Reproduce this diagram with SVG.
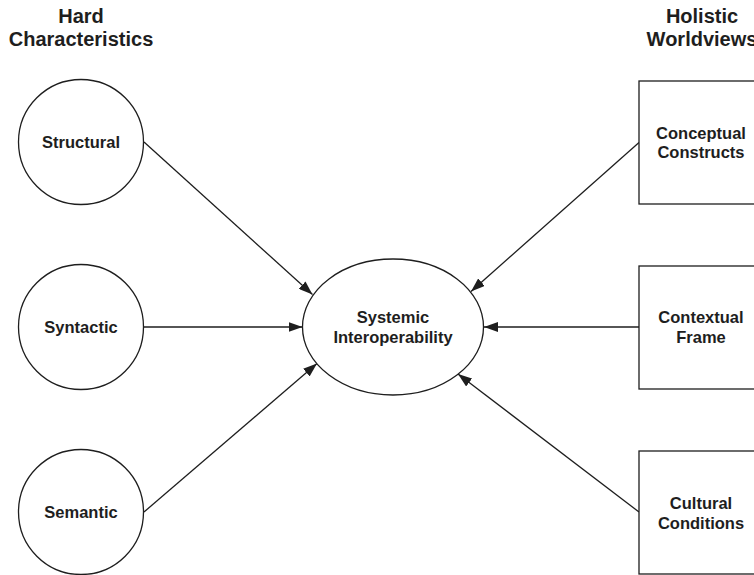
<svg xmlns="http://www.w3.org/2000/svg" width="754" height="575" viewBox="0 0 754 575">
  <style>
    .shape { fill: #ffffff; stroke: #1e1e1e; stroke-width: 1.3; }
    .edge { fill: none; stroke: #1e1e1e; stroke-width: 1.3; }
    .label { font-family: "Liberation Sans", Arial, Helvetica, sans-serif; font-weight: bold; font-size: 16.5px; fill: #1e1e1e; text-anchor: middle; }
    .head { font-family: "Liberation Sans", Arial, Helvetica, sans-serif; font-weight: bold; font-size: 20px; fill: #1e1e1e; text-anchor: middle; }
  </style>
  <defs>
    <marker id="arrow" markerUnits="userSpaceOnUse" markerWidth="14" markerHeight="10" refX="14" refY="5" orient="auto">
      <path d="M0,0 L14,5 L0,10 Z" fill="#1e1e1e"/>
    </marker>
  </defs>

  <rect width="754" height="575" fill="#ffffff"/>

  <!-- column headings -->
  <g id="heading-hard">
    <text class="head" x="81" y="22.5">Hard</text>
    <text class="head" x="81" y="46">Characteristics</text>
  </g>
  <g id="heading-holistic">
    <text class="head" x="702" y="22.5">Holistic</text>
    <text class="head" x="702" y="46">Worldviews</text>
  </g>

  <!-- connectors -->
  <g id="connectors">
    <line class="edge" x1="144" y1="142" x2="312.5" y2="294.5" marker-end="url(#arrow)"/>
    <line class="edge" x1="144" y1="327" x2="302.5" y2="327" marker-end="url(#arrow)"/>
    <line class="edge" x1="144" y1="512" x2="317" y2="363.5" marker-end="url(#arrow)"/>
    <line class="edge" x1="639" y1="142.5" x2="471" y2="291.5" marker-end="url(#arrow)"/>
    <line class="edge" x1="639" y1="327" x2="484" y2="327" marker-end="url(#arrow)"/>
    <line class="edge" x1="639" y1="512" x2="458" y2="374" marker-end="url(#arrow)"/>
  </g>

  <!-- hard characteristics -->
  <g id="node-structural">
    <circle class="shape" cx="81" cy="142" r="62.5"/>
    <text class="label" x="81" y="148">Structural</text>
  </g>
  <g id="node-syntactic">
    <circle class="shape" cx="81" cy="327" r="62.5"/>
    <text class="label" x="81" y="333">Syntactic</text>
  </g>
  <g id="node-semantic">
    <circle class="shape" cx="81" cy="512" r="62.5"/>
    <text class="label" x="81" y="518">Semantic</text>
  </g>

  <!-- central concept -->
  <g id="node-systemic">
    <ellipse class="shape" cx="393" cy="327" rx="90.5" ry="68"/>
    <text class="label" x="393" y="323">Systemic</text>
    <text class="label" x="393" y="343">Interoperability</text>
  </g>

  <!-- holistic worldviews -->
  <g id="node-conceptual">
    <rect class="shape" x="639" y="81" width="124" height="123"/>
    <text class="label" x="701" y="138.5">Conceptual</text>
    <text class="label" x="701" y="158">Constructs</text>
  </g>
  <g id="node-contextual">
    <rect class="shape" x="639" y="266" width="124" height="123"/>
    <text class="label" x="701" y="323">Contextual</text>
    <text class="label" x="701" y="343">Frame</text>
  </g>
  <g id="node-cultural">
    <rect class="shape" x="639" y="451" width="124" height="123"/>
    <text class="label" x="701" y="509">Cultural</text>
    <text class="label" x="701" y="529">Conditions</text>
  </g>
</svg>
